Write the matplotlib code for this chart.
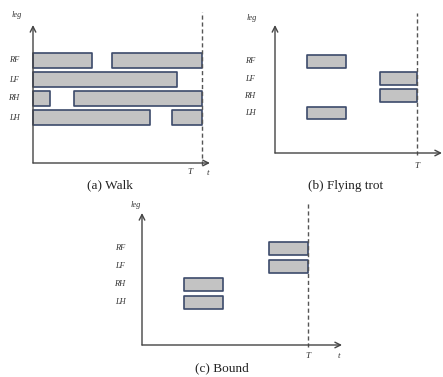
import numpy as np
import matplotlib.pyplot as plt

plt.rcParams['font.family'] = ['Liberation Serif', 'DejaVu Serif']

legs = ['RF', 'LF', 'RH', 'LH']

# stance intervals, in units of the period T
walk = {
    'RF': [(0.0, 0.35), (0.47, 1.0)],
    'LF': [(0.0, 0.85)],
    'RH': [(0.0, 0.10), (0.24, 1.0)],
    'LH': [(0.0, 0.69), (0.82, 1.0)],
}
trot = {
    'RF': [(0.225, 0.50)],
    'LF': [(0.74, 1.0)],
    'RH': [(0.74, 1.0)],
    'LH': [(0.225, 0.50)],
}
bound = {
    'RF': [(0.765, 1.0)],
    'LF': [(0.765, 1.0)],
    'RH': [(0.253, 0.488)],
    'LH': [(0.253, 0.488)],
}

W, H = 443, 377
fig = plt.figure(figsize=(W / 100, H / 100), dpi=100)

axcol = '#444444'
barface = '#c3c3c3'
baredge = '#3c4a6b'


def panel(ox, oy, sx, xmax, base, sp, top, dash_top, h, data, caption, cap_xy,
          Txy, txy, lab_dx, leg_xy):
    # ox, oy: origin in pixels; sx: px per T; sp: px per leg row
    ax = fig.add_axes([ox / W, (H - oy) / H, sx * xmax / W, top / H])
    ybot = -base / sp
    ytop = (top - base) / sp
    ax.set_xlim(0, xmax)
    ax.set_ylim(ybot, ytop)
    ax.axis('off')
    ypos = {leg: 3 - i for i, leg in enumerate(legs)}
    for leg in legs:
        ivs = data[leg]
        ax.broken_barh([(a, b - a) for a, b in ivs], (ypos[leg] - h / 2, h),
                       facecolors=barface, edgecolors=baredge, linewidth=1.2,
                       clip_on=False)
        ax.text(-lab_dx / sx, ypos[leg], leg, style='italic', fontsize=6,
                ha='center', va='center', color='#333333')
    ax.annotate('', xy=(xmax, ybot), xytext=(0, ybot), annotation_clip=False,
                arrowprops=dict(arrowstyle='->', color=axcol, lw=1.0,
                                shrinkA=0, shrinkB=0))
    ax.annotate('', xy=(0, ytop), xytext=(0, ybot), annotation_clip=False,
                arrowprops=dict(arrowstyle='->', color=axcol, lw=1.0,
                                shrinkA=0, shrinkB=0))
    ax.plot([1.0, 1.0], [ybot - 2 / sp, ybot + dash_top / sp],
            ls=(0, (3, 2)), color='#555555', lw=1.0, clip_on=False)
    fig.text(leg_xy[0] / W, 1 - leg_xy[1] / H, 'leg', style='italic',
             fontsize=6, ha='center', va='center', color='#333333')
    fig.text(Txy[0] / W, 1 - Txy[1] / H, 'T', style='italic', fontsize=6.5,
             ha='center', va='center', color='#333333')
    if txy is not None:
        fig.text(txy[0] / W, 1 - txy[1] / H, 't', style='italic', fontsize=6.5,
                 ha='center', va='center', color='#333333')
    fig.text(cap_xy[0] / W, 1 - cap_xy[1] / H, caption, fontsize=9.5,
             ha='center', va='center', color='#222222')


panel(33, 163, 169, 1.047, 45.5, 19, 138, 151, 0.8, walk, '(a) Walk',
      (110, 185), (190, 172), (208, 173), 19, (17, 15))
panel(275, 153, 142, 1.176, 40, 17.2, 128, 140, 0.75, trot, '(b) Flying trot',
      (346, 186), (417, 166), None, 25, (252, 18))
panel(142, 345, 166, 1.205, 42.5, 18, 132, 143, 0.75, bound, '(c) Bound',
      (222, 368), (308, 356), (339, 356), 22, (136, 205))

fig.savefig('out.png', dpi=100)
